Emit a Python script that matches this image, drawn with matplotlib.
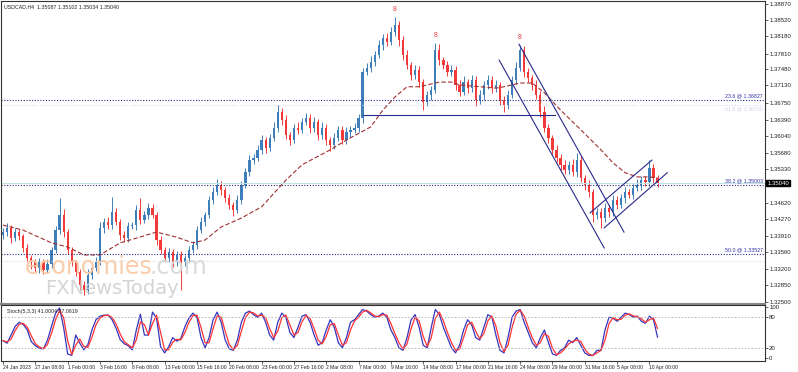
import numpy as np
import pandas as pd
import matplotlib
matplotlib.use('Agg')
import matplotlib.pyplot as plt

plt.rcParams['font.family'] = ['Liberation Sans', 'DejaVu Sans']

# candles (one candle here = two H4 bars), closes
close = [1.3399, 1.3408, 1.3386, 1.3399, 1.3390, 1.3365, 1.3343, 1.3335, 1.3322, 1.3335,
         1.3318, 1.3331, 1.3360, 1.3403, 1.3436, 1.3399, 1.3360, 1.3335, 1.3314, 1.3286,
         1.3275, 1.3307, 1.3322, 1.3335, 1.3408, 1.3421, 1.3414, 1.3442, 1.3421, 1.3392,
         1.3386, 1.3412, 1.3414, 1.3446, 1.3425, 1.3436, 1.3451, 1.3436, 1.3382, 1.3360,
         1.3343, 1.3356, 1.3335, 1.3350, 1.3335, 1.3343, 1.3360, 1.3371, 1.3403, 1.3421,
         1.3436, 1.3468, 1.3485, 1.3500, 1.3489, 1.3472, 1.3457, 1.3446, 1.3468, 1.3500,
         1.3527, 1.3553, 1.3558, 1.3575, 1.3596, 1.3579, 1.3600, 1.3622, 1.3656, 1.3639,
         1.3607, 1.3596, 1.3622, 1.3618, 1.3635, 1.3643, 1.3622, 1.3635, 1.3607, 1.3622,
         1.3596, 1.3585, 1.3600, 1.3618, 1.3596, 1.3613, 1.3618, 1.3622, 1.3643, 1.3742,
         1.3751, 1.3763, 1.3778, 1.3799, 1.3814, 1.3806, 1.3827, 1.3842, 1.3810, 1.3778,
         1.3757, 1.3735, 1.3746, 1.3720, 1.3677, 1.3692, 1.3703, 1.3789, 1.3767, 1.3757,
         1.3742, 1.3746, 1.3714, 1.3699, 1.3720, 1.3707, 1.3724, 1.3682, 1.3692, 1.3714,
         1.3724, 1.3707, 1.3714, 1.3682, 1.3671, 1.3692, 1.3724, 1.3751, 1.3789, 1.3742,
         1.3729, 1.3714, 1.3692, 1.3656, 1.3622, 1.3600, 1.3575, 1.3558, 1.3543, 1.3532,
         1.3543, 1.3527, 1.3553, 1.3515, 1.3500, 1.3485, 1.3436, 1.3442, 1.3429, 1.3451,
         1.3442, 1.3468, 1.3457, 1.3472, 1.3485, 1.3479, 1.3493, 1.3500, 1.3510, 1.3506,
         1.3536, 1.3515, 1.3504]
first_open = 1.3392

# wick sizes in pips
wick_hi = [8, 10, 6, 9, 7, 5, 8, 6, 7, 9,
           6, 10, 8, 10, 36, 12, 6, 8, 5, 7,
           9, 12, 6, 10, 12, 9, 11, 32, 8, 6,
           10, 9, 7, 12, 26, 9, 11, 8, 6, 9,
           7, 10, 6, 8, 9, 7, 10, 8, 9, 11,
           7, 9, 10, 12, 8, 6, 9, 7, 10, 8,
           9, 12, 8, 10, 11, 7, 9, 12, 14, 8,
           10, 7, 9, 12, 8, 11, 9, 10, 7, 12,
           8, 6, 10, 9, 7, 11, 8, 10, 9, 8,
           10, 12, 8, 11, 9, 12, 10, 17, 9, 8,
           11, 7, 10, 8, 6, 9, 8, 15, 12, 7,
           9, 11, 8, 10, 12, 7, 11, 9, 10, 8,
           12, 9, 10, 7, 8, 11, 9, 12, 10, 8,
           9, 7, 10, 8, 12, 9, 7, 10, 8, 11,
           9, 12, 16, 8, 6, 10, 7, 9, 8, 11,
           7, 10, 8, 9, 11, 7, 9, 12, 8, 10,
           17, 9, 7]
wick_lo = [7, 9, 10, 6, 8, 9, 7, 15, 8, 10,
           9, 7, 8, 6, 9, 10, 7, 9, 8, 10,
           11, 8, 9, 7, 6, 10, 8, 9, 7, 10,
           8, 9, 7, 10, 8, 6, 9, 7, 10, 8,
           9, 7, 10, 8, 60, 9, 7, 6, 8, 7,
           9, 6, 8, 7, 10, 9, 8, 12, 7, 9,
           6, 8, 9, 7, 8, 10, 7, 6, 9, 10,
           8, 11, 7, 9, 8, 7, 10, 8, 11, 9,
           10, 12, 8, 7, 9, 8, 10, 7, 9, 10,
           7, 9, 8, 6, 10, 8, 7, 9, 12, 10,
           9, 11, 8, 10, 17, 9, 10, 7, 11, 9,
           10, 8, 12, 9, 7, 10, 8, 14, 9, 10,
           8, 11, 9, 10, 14, 8, 7, 9, 8, 12,
           9, 10, 8, 11, 9, 10, 8, 9, 11, 8,
           9, 8, 10, 9, 12, 10, 15, 9, 21, 8,
           10, 8, 9, 7, 10, 8, 9, 7, 10, 8,
           9, 10, 8]

# moving average (dashed) points: candle index, price
ma_idx = [0, 5, 12, 16, 20, 24, 29, 33, 38, 43, 47, 50, 54, 59, 64, 70, 74, 81, 85, 91,
          94, 97, 100, 103, 108, 111, 113, 118, 122, 124, 128, 131, 134, 138, 143, 148,
          151, 154, 157, 160, 162]
ma_val = [1.3414, 1.3403, 1.3376, 1.3367, 1.3350, 1.3350, 1.3376, 1.3386, 1.3399, 1.3388,
          1.3376, 1.3382, 1.3410, 1.3429, 1.3453, 1.3510, 1.3543, 1.3575, 1.3596, 1.3624,
          1.3660, 1.3688, 1.3710, 1.3710, 1.3720, 1.3720, 1.3714, 1.3710, 1.3707, 1.3710,
          1.3718, 1.3718, 1.3697, 1.3660, 1.3618, 1.3575, 1.3547, 1.3526, 1.3517, 1.3517,
          1.3515]

# stochastic %K per candle
stoch_k = [34, 29, 45, 62, 70, 66, 55, 32, 24, 19,
           18, 35, 62, 88, 98, 60, 8, 5, 45, 29,
           16, 26, 55, 75, 82, 84, 84, 75, 58, 36,
           28, 24, 16, 55, 86, 45, 45, 90, 78, 22,
           10, 22, 40, 33, 38, 61, 78, 88, 80, 40,
           20, 40, 75, 90, 70, 35, 18, 15, 35, 70,
           88, 92, 85, 80, 88, 70, 45, 35, 70, 88,
           80, 50, 40, 60, 82, 85, 70, 45, 25, 30,
           55, 75, 60, 30, 20, 40, 70, 75, 85, 95,
           92, 85, 80, 82, 88, 80, 55, 40, 20, 15,
           40, 75, 85, 60, 25, 20, 60, 95, 85, 60,
           40, 20, 10, 25, 55, 75, 65, 40, 35, 60,
           85, 80, 45, 15, 10, 40, 80, 92, 95, 70,
           50, 30, 20, 40, 55, 30, 8, 5, 15, 20,
           35, 30, 40, 25, 10, 5, 5, 15, 15, 55,
           80, 78, 72, 80, 88, 85, 80, 82, 72, 68,
           82, 75, 41]

price_ticks = [1.38870, 1.38520, 1.38180, 1.37810, 1.37480, 1.37130, 1.36750, 1.36390,
               1.36040, 1.35680, 1.35330, 1.34620, 1.34270, 1.33910, 1.33560, 1.33200,
               1.32850, 1.32500]
date_labels = ["24 Jan 2023", "27 Jan 08:00", "1 Feb 00:00", "3 Feb 16:00", "8 Feb 08:00",
               "13 Feb 00:00", "15 Feb 16:00", "20 Feb 08:00", "23 Feb 00:00", "27 Feb 16:00",
               "2 Mar 08:00", "7 Mar 00:00", "9 Mar 16:00", "14 Mar 08:00", "17 Mar 00:00",
               "21 Mar 16:00", "24 Mar 08:00", "29 Mar 00:00", "31 Mar 16:00", "5 Apr 08:00",
               "10 Apr 00:00"]

fib_levels = [1.36827, 1.35003, 1.33527]
fib_names = ["23.6 @ 1.36827", "38.2 @ 1.35003", "50.0 @ 1.33527"]
neckline = ([89, 136.6], [1.3650, 1.3650])
channel_a = ([122.8, 148.8], [1.3767, 1.3365])
channel_b = ([127.7, 153.7], [1.3801, 1.3399])
rise_lo = ([148.8, 164.4], [1.3408, 1.3526])
rise_hi = ([145.3, 160.6], [1.3440, 1.3553])
marks = [97, 107, 128]
last_price = 1.35040

W, H = 798, 372
fig = plt.figure(figsize=(W / 100, H / 100), dpi=100)
ax = fig.add_axes([1 / W, 1 - 304 / H, 764 / W, 303 / H])
ax2 = fig.add_axes([1 / W, 1 - 361 / H, 764 / W, 56 / H])

bull, bear = '#3f7fb9', '#f23a3a'
navy = '#2a2a8c'

close = np.array(close)
opens = np.concatenate([[first_open], close[:-1]])
highs = np.maximum(opens, close) + np.array(wick_hi) * 0.0001
lows = np.minimum(opens, close) - np.array(wick_lo) * 0.0001
idx = np.arange(len(close))
colors = [bull if c >= o else bear for o, c in zip(opens, close)]

ax.vlines(idx, lows, highs, colors=colors, linewidth=0.7)
ax.bar(idx, np.maximum(np.abs(close - opens), 0.00006), bottom=np.minimum(opens, close),
       width=0.55, color=colors, linewidth=0)

ax.plot(ma_idx, ma_val, color='#a03030', linestyle=(0, (4, 2)), linewidth=0.8)

# horizontal levels
for lv, name in zip(fib_levels, fib_names):
    ax.axhline(lv, color=navy, linestyle=(0, (1, 1.5)), linewidth=0.8)
    ax.text(0.997, lv + 0.0002, name, transform=ax.get_yaxis_transform(), ha='right',
            va='bottom', fontsize=3.8, color='#3333aa')
ax.axhline(1.36700, color='#d8d8ee', linestyle=(0, (1, 1.5)), linewidth=0.8)
ax.text(0.997, 1.36700 - 0.0001, "61.8 @ 1.36700", transform=ax.get_yaxis_transform(),
        ha='right', va='top', fontsize=3.8, color='#d0d0ea')
ax.axhline(1.35050, color='#bfe3e3', linewidth=0.7)
ax.axhline(1.33380, color='#dddddd', linestyle=(0, (1, 1.5)), linewidth=0.8)

for seg in [neckline, channel_a, channel_b, rise_lo, rise_hi]:
    ax.plot(seg[0], seg[1], color=navy, linewidth=0.8)

for m in marks:
    ax.text(m, highs[m] + 0.0008, "8", ha='center', va='bottom', fontsize=5, color='#e04040')

ax.set_xlim(-0.5, 188.6)
ax.set_ylim(1.32451, 1.38935)
ax.yaxis.tick_right()
ax.set_yticks(price_ticks)
ax.set_yticklabels([f"{p:.5f}" for p in price_ticks])
ax.tick_params(axis='y', labelsize=4.3, length=2, width=0.5, pad=1, colors='#222222')
ax.set_xticks([])
ax.text(1.003, last_price, f"{last_price:.5f}", transform=ax.get_yaxis_transform(),
        ha='left', va='center', fontsize=4.3, color='white',
        bbox=dict(boxstyle='square,pad=0.15', facecolor='black', edgecolor='black'))

# watermark
fig.text(25 / W, 1 - 274 / H, "economies", fontsize=17, color='#f9c8a2', alpha=0.9,
         family='DejaVu Sans')
fig.text(150 / W, 1 - 274 / H, ".com", fontsize=17, color='#d6d6d6', alpha=0.9,
         family='DejaVu Sans')
fig.text(45 / W, 1 - 294 / H, "FXNewsToday", fontsize=14, color='#d0d0d0', alpha=0.9,
         family='DejaVu Sans')

fig.text(4 / W, 1 - 7 / H, "USDCAD,H4  1.35087 1.35102 1.35034 1.35040", fontsize=3.8,
         va='center', color='#222222')

# stochastic panel
k = pd.Series(stoch_k, dtype=float)
d = k.rolling(2, min_periods=1).mean()
ax2.plot(idx, k, color='#3535c0', linewidth=0.9)
ax2.plot(idx, d, color='#ff3333', linewidth=0.9)
for lv in [80, 20]:
    ax2.axhline(lv, color='#b0b0b0', linestyle=(0, (2, 2)), linewidth=0.6)
ax2.set_xlim(-0.5, 188.6)
ax2.set_ylim(-5.9, 103.9)
ax2.yaxis.tick_right()
ax2.set_yticks([100, 80, 20, 0])
ax2.set_yticklabels(["100", "80", "20", "0"])
ax2.tick_params(axis='y', labelsize=4.3, length=2, width=0.5, pad=1, colors='#222222')
ax2.set_xticks([8 * j for j in range(len(date_labels))])
ax2.set_xticklabels(date_labels, ha='left')
ax2.tick_params(axis='x', labelsize=3.6, length=2, width=0.5, pad=1, colors='#222222')
ax2.text(0.008, 0.93, "Stoch(5,3,3) 41.0004 57.0619", transform=ax2.transAxes, fontsize=3.8,
         va='top', color='#222222')

for a in (ax, ax2):
    for s in a.spines.values():
        s.set_linewidth(0.8)
        s.set_color('#333333')
ax.spines['bottom'].set_linewidth(1.5)
ax.spines['bottom'].set_color('#888888')

fig.savefig('out.png', dpi=100)
